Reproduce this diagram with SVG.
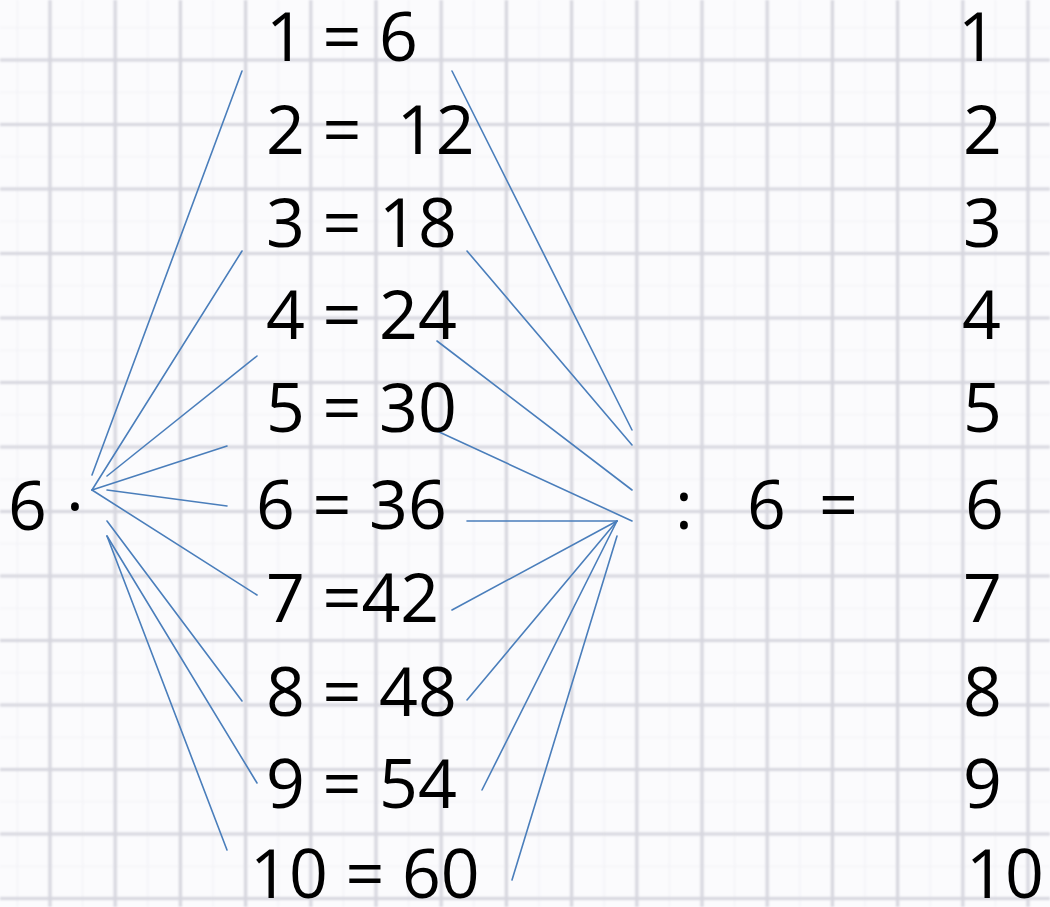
<svg xmlns="http://www.w3.org/2000/svg" width="1050" height="907" viewBox="0 0 1050 907">
<style>
.g{stroke:#d6d6de;stroke-width:3.2;fill:none}
.gm{stroke:#f1f1f5;stroke-width:1.2;fill:none}
.t{font-family:"Open Sans","Noto Sans","Liberation Sans",sans-serif;font-size:68px;fill:#000;white-space:pre}
.c{stroke:#4a7ebb;stroke-width:1.6;fill:none;stroke-linecap:round}
</style>
<defs>
<filter id="soft" x="0" y="0" width="1" height="1"><feGaussianBlur stdDeviation="0.9"/></filter>
</defs>
<rect width="1050" height="907" fill="#fbfbfd"/>
<g id="grid" filter="url(#soft)">
<path class="gm" d="M17.4 0V907M82.6 0V907M147.8 0V907M213 0V907M278.2 0V907M343.4 0V907M408.6 0V907M473.8 0V907M539 0V907M604.2 0V907M669.4 0V907M734.6 0V907M799.8 0V907M865 0V907M930.2 0V907M995.4 0V907"/>
<path class="gm" d="M0 27.75H1050M0 92.25H1050M0 156.75H1050M0 221.25H1050M0 285.75H1050M0 350.25H1050M0 414.75H1050M0 479.25H1050M0 543.75H1050M0 608.25H1050M0 672.75H1050M0 737.25H1050M0 801.75H1050M0 866.25H1050"/>
<path class="g" d="M50 0V907M115.2 0V907M180.4 0V907M245.6 0V907M310.8 0V907M376 0V907M441.2 0V907M506.4 0V907M571.6 0V907M636.8 0V907M702 0V907M767.2 0V907M832.4 0V907M897.6 0V907M962.8 0V907M1028 0V907"/>
<path class="g" d="M0 60H1050M0 124.5H1050M0 189H1050M0 253.5H1050M0 318H1050M0 382.5H1050M0 447H1050M0 511.5H1050M0 576H1050M0 640.5H1050M0 705H1050M0 769.5H1050M0 834H1050M0 898.5H1050"/>
</g>
<g id="connectors">
<line class="c" x1="92" y1="475" x2="242" y2="71"/>
<line class="c" x1="92" y1="490" x2="242" y2="251"/>
<line class="c" x1="107" y1="476" x2="257" y2="356"/>
<line class="c" x1="92" y1="490" x2="227" y2="446"/>
<line class="c" x1="107" y1="490" x2="227" y2="506"/>
<line class="c" x1="92" y1="490" x2="257" y2="595"/>
<line class="c" x1="107" y1="521" x2="242" y2="701"/>
<line class="c" x1="107" y1="536" x2="257" y2="783"/>
<line class="c" x1="107" y1="536" x2="227" y2="850"/>
<line class="c" x1="452" y1="71" x2="632" y2="430"/>
<line class="c" x1="467" y1="251" x2="632" y2="445"/>
<line class="c" x1="437" y1="341" x2="632" y2="490"/>
<line class="c" x1="437" y1="431" x2="632" y2="521"/>
<line class="c" x1="467" y1="521" x2="617" y2="521"/>
<line class="c" x1="452" y1="610" x2="617" y2="521"/>
<line class="c" x1="467" y1="700" x2="617" y2="521"/>
<line class="c" x1="482" y1="790" x2="617" y2="521"/>
<line class="c" x1="512" y1="880" x2="617" y2="536"/>
</g>
<g id="left"><text class="t" y="530"><tspan x="8">6</tspan><tspan x="66">·</tspan></text></g>
<g id="r1"><text class="t" x="266" y="61">1 = 6</text></g>
<g id="r2"><text class="t" x="266" y="154" xml:space="preserve">2 =  12</text></g>
<g id="r3"><text class="t" x="266" y="247">3 = 18</text></g>
<g id="r4"><text class="t" x="266" y="339">4 = 24</text></g>
<g id="r5"><text class="t" x="266" y="432">5 = 30</text></g>
<g id="r6"><text class="t" x="256" y="529">6 = 36</text></g>
<g id="r7"><text class="t" x="266" y="622">7 =42</text></g>
<g id="r8"><text class="t" x="266" y="716">8 = 48</text></g>
<g id="r9"><text class="t" x="266" y="808">9 = 54</text></g>
<g id="r10"><text class="t" x="250" y="898">10 = 60</text></g>
<g id="div"><text class="t" y="529"><tspan x="675">:</tspan><tspan x="747">6</tspan><tspan x="819">=</tspan></text></g>
<g id="q1"><text class="t" x="958" y="61">1</text></g>
<g id="q2"><text class="t" x="963" y="154">2</text></g>
<g id="q3"><text class="t" x="963" y="247">3</text></g>
<g id="q4"><text class="t" x="962" y="339">4</text></g>
<g id="q5"><text class="t" x="963" y="432">5</text></g>
<g id="q6"><text class="t" x="965" y="529">6</text></g>
<g id="q7"><text class="t" x="963" y="622">7</text></g>
<g id="q8"><text class="t" x="963" y="716">8</text></g>
<g id="q9"><text class="t" x="963" y="808">9</text></g>
<g id="q10"><text class="t" x="966" y="898">10</text></g>
</svg>
